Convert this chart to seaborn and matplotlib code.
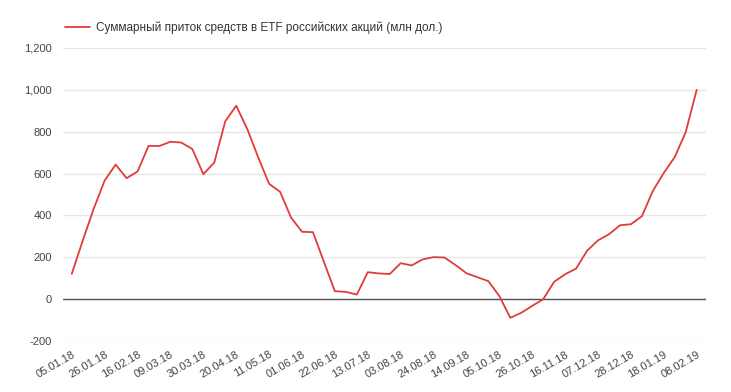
import pandas as pd
import matplotlib.pyplot as plt
import matplotlib.ticker as mticker
import seaborn as sns

# ── data ────────────────────────────────────────────────────────────────────
tick_labels = ["05.01.18", "26.01.18", "16.02.18", "09.03.18", "30.03.18",
               "20.04.18", "11.05.18", "01.06.18", "22.06.18", "13.07.18",
               "03.08.18", "24.08.18", "14.09.18", "05.10.18", "26.10.18",
               "16.11.18", "07.12.18", "28.12.18", "18.01.19", "08.02.19"]
flows = [121, 280, 432, 567, 643, 578, 610, 732, 732, 752,
         748, 717, 597, 653, 850, 924, 814, 678, 551, 513,
         390, 322, 320, 178, 38, 35, 22, 129, 123, 120,
         172, 161, 190, 201, 199, 163, 124, 105, 86, 15,
         -89, -65, -32, 0, 83, 119, 146, 231, 281, 310,
         353, 358, 396, 517, 603, 679, 798, 1000]
series_name = "Суммарный приток средств в ETF российских акций (млн дол.)"

df = pd.DataFrame({"week": range(len(flows)), "flow": flows})

# ── style ───────────────────────────────────────────────────────────────────
sns.set_style("white")
plt.rcParams["font.family"] = ["Liberation Sans", "DejaVu Sans"]

fig = plt.figure(figsize=(7.31, 3.92), dpi=100)
ax = fig.add_axes([0.0862, 0.130, 0.8796, 0.7476])

sns.lineplot(data=df, x="week", y="flow", color="#e03c3c", linewidth=1.3,
             label=series_name, ax=ax)

ax.set_ylim(-200, 1200)
ax.set_xlim(-0.8, len(flows) - 1 + 0.85)
ax.yaxis.set_major_locator(mticker.MultipleLocator(200))
ax.yaxis.set_major_formatter(mticker.FuncFormatter(lambda v, p: f"{v:,.0f}"))
ax.grid(axis="y", color="#e6e6e6", linewidth=1)
ax.axhline(0, color="#555555", linewidth=1, zorder=1)
for s in ax.spines.values():
    s.set_visible(False)

ax.set_xticks(range(0, len(flows), 3))
ax.set_xticklabels(tick_labels, rotation=30, ha="right",
                   rotation_mode="anchor")
ax.tick_params(axis="both", length=0, labelsize=8, colors="#444444")
ax.tick_params(axis="x", pad=6)
ax.tick_params(axis="y", pad=8)
ax.set_xlabel("")
ax.set_ylabel("")

ax.legend(loc="lower left", bbox_to_anchor=(-0.005, 1.03), frameon=False,
          fontsize=8.5, handlelength=2.2, handletextpad=0.5,
          labelcolor="#333333", borderaxespad=0)

plt.savefig("out.png", dpi=100)
plt.close()
